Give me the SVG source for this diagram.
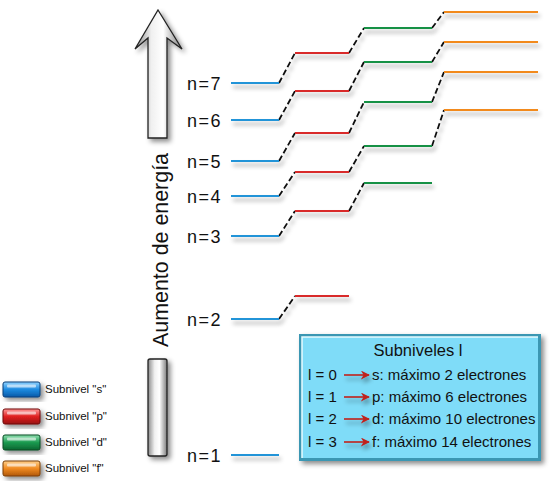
<svg xmlns="http://www.w3.org/2000/svg" width="550" height="481" viewBox="0 0 550 481">
<defs>
<style>
.lvl{stroke-width:2.2;fill:none}
.s{stroke:#2394d8}.p{stroke:#d92a2a}.d{stroke:#179145}.f{stroke:#f28a1e}
.dash{stroke:#111;stroke-width:1.8;stroke-dasharray:6 3;fill:none}
.nl{font-family:"Liberation Sans",Arial,sans-serif;font-size:18px;fill:#111;letter-spacing:1.5px}
.bx{font-family:"Liberation Sans",Arial,sans-serif;font-size:15px;fill:#111}
.lg{font-family:"Liberation Sans",Arial,sans-serif;font-size:11.5px;fill:#111}
</style>
<filter id="sh" x="-20%" y="-50%" width="140%" height="400%">
<feDropShadow dx="2" dy="4" stdDeviation="2" flood-color="#000" flood-opacity="0.35"/>
</filter>
<filter id="sh2" x="-30%" y="-30%" width="160%" height="160%">
<feDropShadow dx="3" dy="3" stdDeviation="2.5" flood-color="#000" flood-opacity="0.45"/>
</filter>
<linearGradient id="gray" x1="0" y1="0" x2="1" y2="0">
<stop offset="0" stop-color="#8a8a8a"/><stop offset="0.35" stop-color="#f0f0f0"/><stop offset="0.6" stop-color="#ffffff"/><stop offset="1" stop-color="#7c7c7c"/>
</linearGradient>
<linearGradient id="gb" x1="0" y1="0" x2="0" y2="1"><stop offset="0" stop-color="#8fd3ff"/><stop offset="0.5" stop-color="#1e8be0"/><stop offset="1" stop-color="#0a5aa8"/></linearGradient>
<linearGradient id="gr" x1="0" y1="0" x2="0" y2="1"><stop offset="0" stop-color="#ff9a9a"/><stop offset="0.5" stop-color="#e02222"/><stop offset="1" stop-color="#981010"/></linearGradient>
<linearGradient id="gg" x1="0" y1="0" x2="0" y2="1"><stop offset="0" stop-color="#8fe0b0"/><stop offset="0.5" stop-color="#1a9a50"/><stop offset="1" stop-color="#0b6630"/></linearGradient>
<linearGradient id="go" x1="0" y1="0" x2="0" y2="1"><stop offset="0" stop-color="#ffd08a"/><stop offset="0.5" stop-color="#f08a20"/><stop offset="1" stop-color="#b0580a"/></linearGradient>
<marker id="ah" viewBox="0 0 10 10" refX="9" refY="5" markerWidth="9" markerHeight="9" markerUnits="userSpaceOnUse" orient="auto">
<path d="M0,0 L10,5 L0,10 L3,5 z" fill="#c0201e"/>
</marker>
</defs>
<rect width="550" height="481" fill="#ffffff"/>

<g id="energy-arrow" filter="url(#sh2)">
<path d="M158,10 L182,49 L167,38 L167,138 L148,138 L148,38 L135,49 Z" fill="url(#gray)" stroke="#222" stroke-width="1.3" stroke-linejoin="miter"/>
<rect x="148" y="359" width="19" height="97" rx="2" fill="url(#gray)" stroke="#222" stroke-width="1.3"/>
</g>
<text id="axis-label" transform="translate(168,250) rotate(-90)" text-anchor="middle" font-family="'Liberation Sans',Arial,sans-serif" font-size="22" fill="#111" textLength="194" lengthAdjust="spacingAndGlyphs">Aumento de energía</text>

<g id="labels">
<text class="nl" x="187" y="90">n=7</text>
<text class="nl" x="187" y="127">n=6</text>
<text class="nl" x="187" y="168">n=5</text>
<text class="nl" x="187" y="203">n=4</text>
<text class="nl" x="187" y="243">n=3</text>
<text class="nl" x="187" y="326">n=2</text>
<text class="nl" x="187" y="462">n=1</text>
</g>

<g id="connectors" filter="url(#sh)">
<path class="dash" d="M279,83 L295,53 M349,53 L364,28 M432,28 L444,12"/>
<path class="dash" d="M279,120 L295,91 M349,91 L364,62 M432,62 L444,42"/>
<path class="dash" d="M279,161 L295,133 M349,133 L364,102 M432,102 L444,72"/>
<path class="dash" d="M279,196 L295,172 M349,172 L364,146 M432,146 L444,110"/>
<path class="dash" d="M279,236 L295,211 M349,211 L364,183"/>
<path class="dash" d="M279,319 L295,296"/>
</g>

<g id="levels" filter="url(#sh)">
<g id="n7"><path class="lvl s" d="M231,83H279"/><path class="lvl p" d="M295,53H349"/><path class="lvl d" d="M364,28H432"/><path class="lvl f" d="M444,12H538"/></g>
<g id="n6"><path class="lvl s" d="M231,120H279"/><path class="lvl p" d="M295,91H349"/><path class="lvl d" d="M364,62H432"/><path class="lvl f" d="M444,42H538"/></g>
<g id="n5"><path class="lvl s" d="M231,161H279"/><path class="lvl p" d="M295,133H349"/><path class="lvl d" d="M364,102H432"/><path class="lvl f" d="M444,72H538"/></g>
<g id="n4"><path class="lvl s" d="M231,196H279"/><path class="lvl p" d="M295,172H349"/><path class="lvl d" d="M364,146H432"/><path class="lvl f" d="M444,110H538"/></g>
<g id="n3"><path class="lvl s" d="M231,236H279"/><path class="lvl p" d="M295,211H349"/><path class="lvl d" d="M364,183H432"/></g>
<g id="n2"><path class="lvl s" d="M231,319H279"/><path class="lvl p" d="M295,296H349"/></g>
<g id="n1"><path class="lvl s" d="M231,455H279"/></g>
</g>

<g id="info-box">
<rect x="299" y="334" width="242" height="127" fill="#3b97b3" filter="url(#sh2)"/>
<rect x="302" y="337" width="236" height="121" fill="#7fdcf8"/>
<path d="M302,458 V337 H538" fill="none" stroke="#e8fbff" stroke-width="1.5"/>
<text x="418" y="356" text-anchor="middle" font-family="'Liberation Sans',Arial,sans-serif" font-size="16.5" fill="#111">Subniveles l</text>
<g class="bx">
<text x="308" y="380">l = 0</text><text x="372" y="380">s: máximo 2 electrones</text>
<text x="308" y="402">l = 1</text><text x="372" y="402">p: máximo 6 electrones</text>
<text x="308" y="424">l = 2</text><text x="372" y="424">d: máximo 10 electrones</text>
<text x="308" y="447">l = 3</text><text x="372" y="447">f: máximo 14 electrones</text>
</g>
<g stroke="#c0201e" stroke-width="1.6" marker-end="url(#ah)" filter="url(#sh)">
<path d="M344,375H369"/><path d="M344,397H369"/><path d="M344,419H369"/><path d="M344,442H369"/>
</g>
</g>

<g id="legend">
<g id="leg-s"><rect x="3" y="382" width="37" height="15" rx="2" fill="url(#gb)" stroke="#0a3f78" stroke-width="1" filter="url(#sh2)"/><rect x="7" y="384.5" width="29" height="3" rx="1" fill="#fff" opacity="0.6"/><text class="lg" x="45" y="393">Subnivel "s"</text></g>
<g id="leg-p"><rect x="3" y="409" width="37" height="15" rx="2" fill="url(#gr)" stroke="#6e0a0a" stroke-width="1" filter="url(#sh2)"/><rect x="7" y="411.5" width="29" height="3" rx="1" fill="#fff" opacity="0.6"/><text class="lg" x="45" y="420">Subnivel "p"</text></g>
<g id="leg-d"><rect x="3" y="435" width="37" height="15" rx="2" fill="url(#gg)" stroke="#064a22" stroke-width="1" filter="url(#sh2)"/><rect x="7" y="437.5" width="29" height="3" rx="1" fill="#fff" opacity="0.6"/><text class="lg" x="45" y="446">Subnivel "d"</text></g>
<g id="leg-f"><rect x="3" y="461" width="37" height="15" rx="2" fill="url(#go)" stroke="#7a3d06" stroke-width="1" filter="url(#sh2)"/><rect x="7" y="463.5" width="29" height="3" rx="1" fill="#fff" opacity="0.6"/><text class="lg" x="45" y="472">Subnivel "f"</text></g>
</g>
</svg>
